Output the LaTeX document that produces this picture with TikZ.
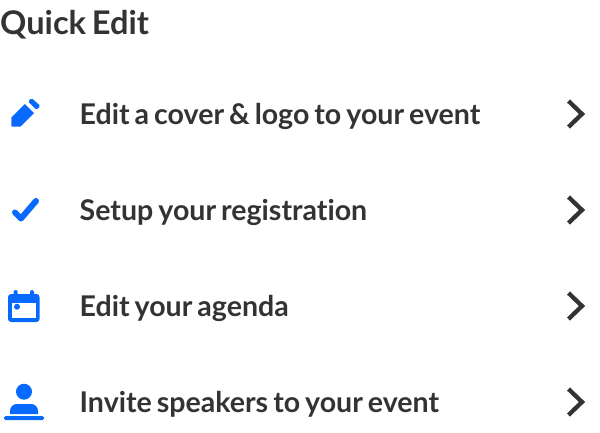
\documentclass[tikz,border=0pt]{standalone}
\usepackage{fontspec}
\setmainfont{Lato}[Ligatures=NoCommon,WordSpace=0.72]
\definecolor{ink}{HTML}{333333}
\definecolor{iconblue}{HTML}{0869FF}
\tikzset{
  rowtext/.style={anchor=base west,inner sep=0pt,text=ink,font=\fontsize{28.55}{34}\selectfont\bfseries},
  titletext/.style={anchor=base west,inner sep=0pt,text=ink,font=\fontsize{32.6}{38}\selectfont\bfseries},
  chev/.style={draw=ink,line width=4.3pt,line join=miter,line cap=butt}
}
\begin{document}
\begin{tikzpicture}[x=1pt,y=-1pt]
\useasboundingbox (0,0) rectangle (600,432);
\node[titletext] (title) at (0,34) {Quick Edit};
\node[rowtext] (r1) at (79.5,124) {Edit a cover \& logo to your event};
\node[rowtext] (r2) at (79.5,220) {Setup your registration};
\node[rowtext] (r3) at (79.5,316) {Edit your agenda};
\node[rowtext] (r4) at (79.5,412) {Invite speakers to your event};
% chevrons
\foreach \y in {114,210,306,402}
  \draw[chev] (568.5,\y-13) -- (582,\y) -- (568.5,\y+13);
% pencil
\fill[iconblue] (11.3,126.7) -- (11.3,117.5) -- (25,104) -- (34,113) -- (20.5,126.7) -- cycle;
\fill[iconblue,rounded corners=1.5pt] (28,101.5) -- (31.5,98) -- (40.5,106) -- (36.5,109.8) -- cycle;
% check
\draw[iconblue,line width=6pt,line cap=round,line join=round] (15,212.5) -- (21,218.5) -- (36,201);
% calendar
\fill[iconblue,rounded corners=3pt] (8,294) rectangle (39.5,322);
\fill[white] (12,302.7) rectangle (35.7,318.3);
\fill[iconblue] (17,306.7) circle (3);
\fill[iconblue,rounded corners=1.5pt] (13.7,290) rectangle (17.7,296);
\fill[iconblue,rounded corners=1.5pt] (30,290) rectangle (34,296);
% person
\fill[iconblue] (24,391.7) circle (8);
\fill[iconblue] (10,414) -- (10,411) .. controls (10,407) and (13,404) .. (17,404) -- (31,404) .. controls (35,404) and (38,407) .. (38,411) -- (38,414) -- cycle;
\fill[iconblue,rounded corners=1.5pt] (4,416) rectangle (44,420);
\end{tikzpicture}
\end{document}
